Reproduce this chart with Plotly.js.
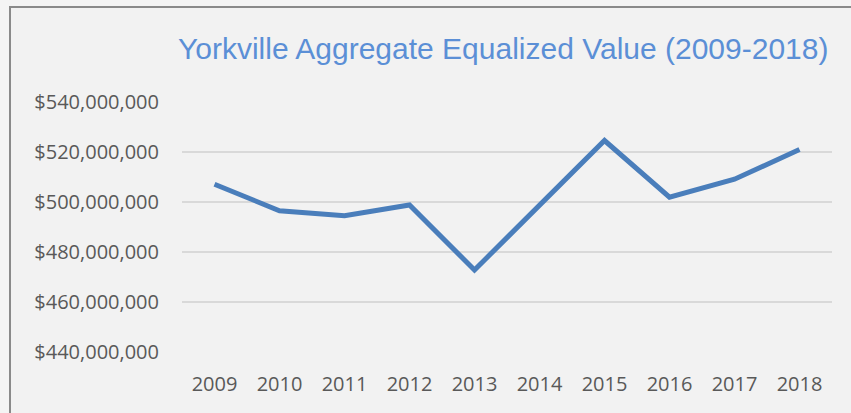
<!DOCTYPE html>
<html>
<head>
<meta charset="utf-8">
<script src="https://cdn.plot.ly/plotly-3.0.1.min.js"></script>
<style>
  body { margin: 0; background: #f4f4f4; }
  #frame {
    position: absolute; left: 9px; top: 6px;
    border-top: 2px solid #8a8a8a; border-left: 2px solid #8a8a8a;
    background: #f2f2f2;
  }
  #plot { width: 840px; height: 405px; }
</style>
</head>
<body>
<div id="frame"><div id="plot"></div></div>
<script>
// Yorkville aggregate equalized value
const years = ['2009', '2010', '2011', '2012', '2013', '2014', '2015', '2016', '2017', '2018'];
const values = [507.1e6, 496.5e6, 494.5e6, 498.8e6, 472.8e6, 498.7e6, 524.6e6, 501.9e6, 509.1e6, 521.0e6];
const yTicks = [440e6, 460e6, 480e6, 500e6, 520e6, 540e6];

const trace = {
    x: years,
    y: values,
    mode: 'lines',
    line: {color: '#4a7ebb', width: 5},
    hoverinfo: 'x+y'
};

const layout = {
    width: 840,
    height: 405,
    margin: {l: 171, r: 19, t: 94, b: 61},
    paper_bgcolor: '#f2f2f2',
    plot_bgcolor: '#f2f2f2',
    showlegend: false,
    font: {family: 'Open Sans, sans-serif', size: 21, color: '#595959'},
    title: {
        text: 'Yorkville Aggregate Equalized Value (2009-2018)',
        font: {family: 'Liberation Sans Narrow, Arial Narrow, Liberation Sans, sans-serif', size: 30, color: '#5b8fd6'},
        xref: 'container', x: 0.586, xanchor: 'center',
        yref: 'container', y: 0.9, yanchor: 'middle'
    },
    xaxis: {
        type: 'category',
        range: [-0.5, years.length - 0.5],
        tickfont: {size: 20},
        showgrid: false,
        showline: false,
        zeroline: false,
        ticks: '',
        ticklabelstandoff: 18
    },
    yaxis: {
        range: [440e6, 540e6],
        tickvals: yTicks,
        tickformat: '$,.0f',
        tickfont: {size: 20},
        showgrid: true,
        gridcolor: '#d9d9d9',
        gridwidth: 1.5,
        zeroline: false,
        showline: false,
        ticks: '',
        ticklabelstandoff: 22
    }
};

Plotly.newPlot('plot', [trace], layout, {displayModeBar: false});
</script>
</body>
</html>
